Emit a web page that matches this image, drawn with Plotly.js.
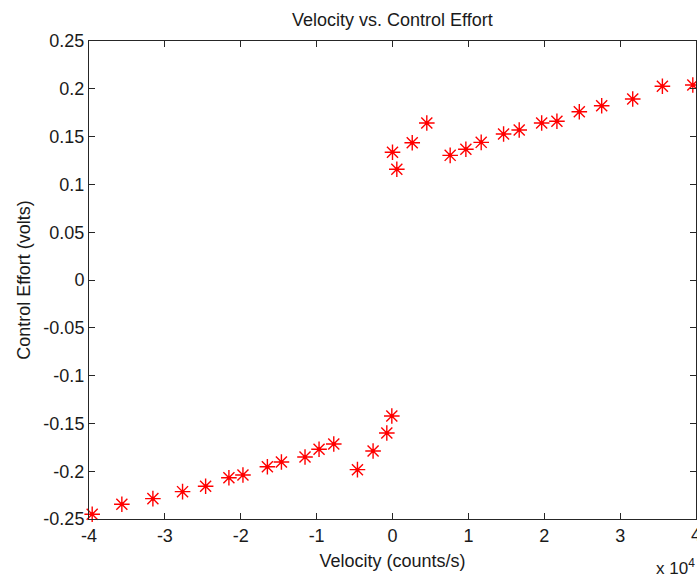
<!DOCTYPE html>
<html>
<head>
<meta charset="utf-8">
<script src="https://cdn.plot.ly/plotly-3.0.1.min.js"></script>
<style>html,body{margin:0;padding:0;background:#fff;}#chart{width:697px;height:579px;}</style>
</head>
<body>
<div id="chart"></div>
<script>
// Velocity in counts/s
var velocity = [-39580, -35670, -31580, -27670, -24630, -21560, -19710, -16490, -14640, -11530, -9680, -7740,
                -4620, -2560, -750, -90,
                0, 570, 2600, 4520,
                7600, 9670, 11690, 14640, 16700, 19660, 21670, 24620, 27570, 31660, 35570, 39580];
// Control effort in volts
var effort = [-0.245, -0.2346, -0.2287, -0.2214, -0.2158, -0.2068, -0.2040, -0.1953, -0.1904, -0.1852, -0.1771, -0.1715,
              -0.1984, -0.1789, -0.1600, -0.1423,
              0.1336, 0.1158, 0.1436, 0.1642,
              0.1304, 0.1367, 0.1440, 0.1527, 0.1569, 0.1642, 0.1660, 0.1760, 0.1823, 0.1893, 0.2026, 0.2040];

var xTickVals = [-40000, -30000, -20000, -10000, 0, 10000, 20000, 30000, 40000];
var xTickText = ['-4', '-3', '-2', '-1', '0', '1', '2', '3', '4'];
var yTickVals = [-0.25, -0.2, -0.15, -0.1, -0.05, 0, 0.05, 0.1, 0.15, 0.2, 0.25];
var yTickText = ['-0.25', '-0.2', '-0.15', '-0.1', '-0.05', '0', '0.05', '0.1', '0.15', '0.2', '0.25'];
var xExponentLabel = 'x 10<sup>4</sup>';

var FONT = '"Liberation Sans", Arial, Helvetica, sans-serif';
var AX = '#262626';
var TXT = '#1a1a1a';

var traces = [
  {
    x: velocity, y: effort, type: 'scatter', mode: 'markers', cliponaxis: false,
    marker: {symbol: 'asterisk-open', size: 13, color: '#ff0000', line: {color: '#ff0000', width: 1.4}},
    hoverinfo: 'x+y', showlegend: false
  },
  {
    x: velocity, y: effort, type: 'scatter', mode: 'markers', cliponaxis: false,
    marker: {symbol: 'circle', size: 4, color: '#ff0000'},
    hoverinfo: 'skip', showlegend: false
  }
];

var lastIdx = xTickVals.length - 1;
var layout = {
  width: 697, height: 579,
  margin: {l: 89, r: 1, t: 41, b: 60, pad: 0},
  paper_bgcolor: '#ffffff', plot_bgcolor: '#ffffff',
  font: {family: FONT, size: 18, color: TXT},
  title: {text: 'Velocity vs. Control Effort', font: {family: FONT, size: 18, color: TXT},
          x: 0.563, xanchor: 'center', xref: 'container', y: 1 - 20 / 579, yanchor: 'middle', yref: 'container'},
  xaxis: {
    range: [-40000, 40000], tickmode: 'array', tickvals: xTickVals, ticktext: xTickText,
    ticks: 'inside', ticklen: 6, tickcolor: AX, tickwidth: 1,
    showline: true, linecolor: AX, linewidth: 1, mirror: 'ticks',
    showgrid: false, zeroline: false,
    tickfont: {family: FONT, size: 18, color: TXT},
    title: {text: 'Velocity (counts/s)', font: {family: FONT, size: 18, color: TXT}, standoff: 9},
    automargin: false, fixedrange: true
  },
  yaxis: {
    range: [-0.25, 0.25], tickmode: 'array', tickvals: yTickVals, ticktext: yTickText,
    ticks: 'inside', ticklen: 6, tickcolor: AX, tickwidth: 1,
    showline: true, linecolor: AX, linewidth: 1, mirror: 'ticks',
    showgrid: false, zeroline: false,
    tickfont: {family: FONT, size: 18, color: TXT},
    title: {text: 'Control Effort (volts)', font: {family: FONT, size: 18, color: TXT}, standoff: 8},
    automargin: false, fixedrange: true
  },
  annotations: [
    {text: xTickText[lastIdx], xref: 'x', yref: 'paper', x: xTickVals[lastIdx], y: -0.034, xanchor: 'center', yanchor: 'middle',
     showarrow: false, font: {family: FONT, size: 18, color: TXT}},
    {text: xExponentLabel, xref: 'paper', yref: 'paper', x: 1.002, y: -0.1005, xanchor: 'right', yanchor: 'middle',
     showarrow: false, font: {family: FONT, size: 17, color: TXT}}
  ]
};

Plotly.newPlot('chart', traces, layout, {displayModeBar: false, staticPlot: true});
</script>
</body>
</html>
